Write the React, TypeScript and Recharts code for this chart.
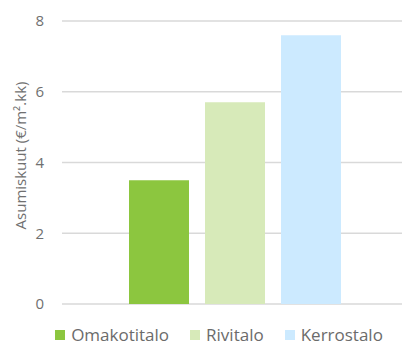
import { BarChart, Bar, XAxis, YAxis, CartesianGrid, Legend } from "recharts";

const SERIES = ["Omakotitalo", "Rivitalo", "Kerrostalo"];
const VALUES = [3.5, 5.7, 7.6];
const COLORS = ["#8CC63F", "#D7EAB9", "#CCEAFF"];
const Y_TICKS = [0, 2, 4, 6, 8];
const Y_LABEL = "Asumiskuut (€/m².kk)";

const FONT = "'Open Sans', sans-serif";

const data = [
  SERIES.reduce<Record<string, number | string>>(
    (row, name, i) => {
      row[name] = VALUES[i];
      return row;
    },
    { name: "" }
  ),
];

function LegendContent() {
  return (
    <div
      style={{
        height: 41,
        paddingTop: 21,
        paddingLeft: 36,
        boxSizing: "border-box",
        display: "flex",
        justifyContent: "center",
        alignItems: "flex-start",
        gap: 21,
        fontFamily: FONT,
        fontSize: 17,
        lineHeight: "19px",
        color: "#6b6b6b",
      }}
    >
      {SERIES.map((name, i) => (
        <div key={name} style={{ display: "flex", alignItems: "center", height: 19 }}>
          <span style={{ width: 10, height: 10, background: COLORS[i], marginRight: 6, display: "inline-block" }} />
          <span>{name}</span>
        </div>
      ))}
    </div>
  );
}

export default function App() {
  return (
    <div style={{ position: "absolute", top: 0, left: 0, width: 403, height: 345, background: "#fff" }}>
      <BarChart
        width={403}
        height={345}
        data={data}
        margin={{ top: 21, right: 1, bottom: 0, left: 0 }}
        barCategoryGap={61}
        barGap={16}
      >
        <CartesianGrid vertical={false} stroke="#d9d9d9" strokeWidth={1.5} />
        <XAxis dataKey="name" hide padding={{ left: 5, right: 0 }} />
        <YAxis
          domain={[0, 8]}
          ticks={Y_TICKS}
          width={62}
          axisLine={false}
          tickLine={false}
          tickMargin={12}
          tick={{ fill: "#707070", fontSize: 15, fontFamily: FONT }}
          label={{
            value: Y_LABEL,
            angle: -90,
            position: "insideLeft",
            dx: 16,
            dy: -7,
            fill: "#707070",
            fontSize: 15,
            fontFamily: FONT,
            style: { textAnchor: "middle" },
          }}
        />
        <Legend verticalAlign="bottom" content={() => <LegendContent />} />
        {SERIES.map((name, i) => (
          <Bar key={name} dataKey={name} fill={COLORS[i]} barSize={60} isAnimationActive={false} />
        ))}
      </BarChart>
    </div>
  );
}
